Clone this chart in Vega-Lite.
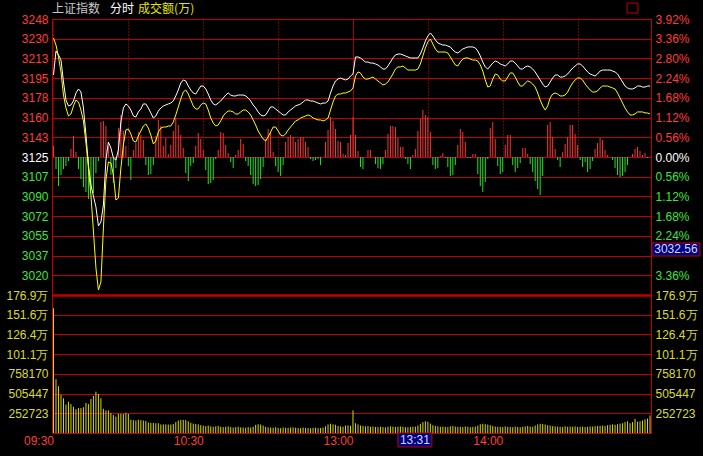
{
"$schema": "https://vega.github.io/schema/vega-lite/v6.json",
"width": 599, "height": 414,
"autosize": "none",
"padding": {"left": 52, "top": 19, "right": 52, "bottom": 23},
"background": "#000000",
"config": {
  "view": {"stroke": "#c00000", "strokeWidth": 1},
  "axis": {"domain": false, "ticks": false, "title": null, "labelFont": "Liberation Sans", "labelFontSize": 12, "labelOverlap": false, "labelFlush": false, "gridColor": "#c00000", "gridOpacity": 1}
},
"datasets": {
"px": [
{"m":0,"w":3198.2,"a":3231.0},{"m":1,"w":3219.5,"a":3224.8},{"m":2,"w":3216.0,"a":3214.2},{"m":3,"w":3211.5,"a":3200.9},{"m":4,"w":3192.0,"a":3180.4},{"m":5,"w":3176.0,"a":3168.9},{"m":6,"w":3170.7,"a":3161.8},{"m":7,"w":3171.6,"a":3163.6},{"m":8,"w":3175.1,"a":3170.7},{"m":9,"w":3182.2,"a":3176.0},
{"m":10,"w":3185.8,"a":3174.2},{"m":11,"w":3183.1,"a":3167.1},{"m":12,"w":3168.9,"a":3157.4},{"m":13,"w":3144.9,"a":3137.8},{"m":14,"w":3118.3,"a":3115.6},{"m":15,"w":3100.5,"a":3091.7},{"m":16,"w":3090.8,"a":3059.7},{"m":17,"w":3081.0,"a":3026.9},{"m":18,"w":3064.2,"a":3007.3},{"m":19,"w":3067.7,"a":3014.4},
{"m":20,"w":3082.8,"a":3062.4},{"m":21,"w":3122.7,"a":3105.0},{"m":22,"w":3138.7,"a":3121.0},{"m":23,"w":3133.4,"a":3120.1},{"m":24,"w":3124.5,"a":3109.4},{"m":25,"w":3122.7,"a":3087.2},{"m":26,"w":3131.6,"a":3089.0},{"m":27,"w":3156.5,"a":3115.6},{"m":28,"w":3168.9,"a":3136.1},{"m":29,"w":3172.5,"a":3149.4},
{"m":30,"w":3170.7,"a":3150.3},{"m":31,"w":3167.1,"a":3145.8},{"m":32,"w":3161.8,"a":3139.6},{"m":33,"w":3160.9,"a":3138.7},{"m":34,"w":3165.4,"a":3144.0},{"m":35,"w":3168.0,"a":3148.5},{"m":36,"w":3172.5,"a":3152.9},{"m":37,"w":3172.5,"a":3154.7},{"m":38,"w":3168.9,"a":3151.1},{"m":39,"w":3164.5,"a":3144.9},
{"m":40,"w":3160.0,"a":3136.9},{"m":41,"w":3161.8,"a":3139.6},{"m":42,"w":3166.2,"a":3147.6},{"m":43,"w":3168.9,"a":3151.1},{"m":44,"w":3170.7,"a":3152.0},{"m":45,"w":3171.6,"a":3152.0},{"m":46,"w":3172.5,"a":3152.9},{"m":47,"w":3173.3,"a":3152.9},{"m":48,"w":3175.1,"a":3156.5},{"m":49,"w":3179.6,"a":3162.7},
{"m":50,"w":3184.9,"a":3169.8},{"m":51,"w":3191.1,"a":3176.9},{"m":52,"w":3193.8,"a":3183.1},{"m":53,"w":3192.9,"a":3184.9},{"m":54,"w":3188.4,"a":3181.3},{"m":55,"w":3184.9,"a":3176.0},{"m":56,"w":3182.2,"a":3170.7},{"m":57,"w":3181.3,"a":3168.0},{"m":58,"w":3184.9,"a":3168.0},{"m":59,"w":3188.4,"a":3171.6},
{"m":60,"w":3188.4,"a":3173.3},{"m":61,"w":3185.8,"a":3172.5},{"m":62,"w":3181.3,"a":3167.1},{"m":63,"w":3176.0,"a":3160.0},{"m":64,"w":3172.5,"a":3155.6},{"m":65,"w":3171.6,"a":3152.9},{"m":66,"w":3173.3,"a":3153.8},{"m":67,"w":3175.1,"a":3157.4},{"m":68,"w":3177.8,"a":3161.8},{"m":69,"w":3180.4,"a":3164.5},
{"m":70,"w":3182.2,"a":3166.2},{"m":71,"w":3180.4,"a":3166.2},{"m":72,"w":3179.6,"a":3165.4},{"m":73,"w":3179.6,"a":3163.6},{"m":74,"w":3180.4,"a":3163.6},{"m":75,"w":3180.4,"a":3165.4},{"m":76,"w":3180.4,"a":3167.1},{"m":77,"w":3179.6,"a":3167.1},{"m":78,"w":3177.8,"a":3165.4},{"m":79,"w":3175.1,"a":3162.7},
{"m":80,"w":3171.6,"a":3158.3},{"m":81,"w":3168.9,"a":3153.8},{"m":82,"w":3165.4,"a":3148.5},{"m":83,"w":3162.7,"a":3144.9},{"m":84,"w":3161.8,"a":3141.4},{"m":85,"w":3162.7,"a":3139.6},{"m":86,"w":3166.2,"a":3143.2},{"m":87,"w":3169.8,"a":3147.6},{"m":88,"w":3169.8,"a":3152.0},{"m":89,"w":3168.0,"a":3152.0},
{"m":90,"w":3166.2,"a":3148.5},{"m":91,"w":3164.5,"a":3144.9},{"m":92,"w":3162.7,"a":3144.0},{"m":93,"w":3162.7,"a":3145.8},{"m":94,"w":3165.4,"a":3149.4},{"m":95,"w":3167.1,"a":3152.0},{"m":96,"w":3168.9,"a":3154.7},{"m":97,"w":3170.7,"a":3157.4},{"m":98,"w":3171.6,"a":3158.3},{"m":99,"w":3172.5,"a":3160.0},
{"m":100,"w":3174.2,"a":3160.9},{"m":101,"w":3176.0,"a":3161.8},{"m":102,"w":3176.0,"a":3162.7},{"m":103,"w":3175.1,"a":3161.8},{"m":104,"w":3175.1,"a":3160.0},{"m":105,"w":3174.2,"a":3159.1},{"m":106,"w":3173.3,"a":3158.3},{"m":107,"w":3172.5,"a":3158.3},{"m":108,"w":3173.3,"a":3157.4},{"m":109,"w":3173.3,"a":3158.3},
{"m":110,"w":3175.1,"a":3160.0},{"m":111,"w":3182.2,"a":3167.1},{"m":112,"w":3188.4,"a":3174.2},{"m":113,"w":3192.9,"a":3179.6},{"m":114,"w":3194.6,"a":3181.3},{"m":115,"w":3195.5,"a":3181.3},{"m":116,"w":3194.6,"a":3182.2},{"m":117,"w":3193.8,"a":3182.2},{"m":118,"w":3194.6,"a":3183.1},{"m":119,"w":3197.3,"a":3184.0},
{"m":120,"w":3199.1,"a":3186.7},{"m":121,"w":3214.2,"a":3197.3},{"m":122,"w":3214.2,"a":3200.9},{"m":123,"w":3213.3,"a":3200.0},{"m":124,"w":3211.5,"a":3196.4},{"m":125,"w":3209.7,"a":3194.6},{"m":126,"w":3209.7,"a":3194.6},{"m":127,"w":3208.8,"a":3195.5},{"m":128,"w":3208.8,"a":3196.4},{"m":129,"w":3208.0,"a":3194.6},
{"m":130,"w":3207.1,"a":3192.9},{"m":131,"w":3205.3,"a":3191.1},{"m":132,"w":3203.5,"a":3189.3},{"m":133,"w":3203.5,"a":3190.2},{"m":134,"w":3206.2,"a":3192.0},{"m":135,"w":3209.7,"a":3195.5},{"m":136,"w":3213.3,"a":3199.1},{"m":137,"w":3216.0,"a":3203.5},{"m":138,"w":3216.8,"a":3205.3},{"m":139,"w":3216.8,"a":3205.3},
{"m":140,"w":3216.0,"a":3206.2},{"m":141,"w":3215.1,"a":3204.4},{"m":142,"w":3214.2,"a":3202.6},{"m":143,"w":3213.3,"a":3202.6},{"m":144,"w":3213.3,"a":3202.6},{"m":145,"w":3213.3,"a":3202.6},{"m":146,"w":3213.3,"a":3203.5},{"m":147,"w":3216.8,"a":3208.0},{"m":148,"w":3222.2,"a":3215.1},{"m":149,"w":3228.4,"a":3222.2},
{"m":150,"w":3232.8,"a":3227.5},{"m":151,"w":3235.5,"a":3230.2},{"m":152,"w":3232.8,"a":3225.7},{"m":153,"w":3229.3,"a":3221.3},{"m":154,"w":3226.6,"a":3218.6},{"m":155,"w":3225.7,"a":3218.6},{"m":156,"w":3224.8,"a":3218.6},{"m":157,"w":3224.8,"a":3218.6},{"m":158,"w":3223.9,"a":3217.7},{"m":159,"w":3223.1,"a":3214.2},
{"m":160,"w":3220.4,"a":3210.6},{"m":161,"w":3218.6,"a":3207.1},{"m":162,"w":3217.7,"a":3206.2},{"m":163,"w":3219.5,"a":3209.7},{"m":164,"w":3221.3,"a":3212.4},{"m":165,"w":3222.2,"a":3213.3},{"m":166,"w":3223.1,"a":3213.3},{"m":167,"w":3223.1,"a":3212.4},{"m":168,"w":3223.1,"a":3211.5},{"m":169,"w":3222.2,"a":3211.5},
{"m":170,"w":3219.5,"a":3210.6},{"m":171,"w":3215.1,"a":3207.1},{"m":172,"w":3209.7,"a":3201.7},{"m":173,"w":3205.3,"a":3193.8},{"m":174,"w":3203.5,"a":3187.5},{"m":175,"w":3206.2,"a":3188.4},{"m":176,"w":3208.8,"a":3194.6},{"m":177,"w":3210.6,"a":3199.1},{"m":178,"w":3209.7,"a":3198.2},{"m":179,"w":3208.0,"a":3194.6},
{"m":180,"w":3207.1,"a":3192.9},{"m":181,"w":3206.2,"a":3192.9},{"m":182,"w":3208.0,"a":3196.4},{"m":183,"w":3210.6,"a":3200.0},{"m":184,"w":3210.6,"a":3200.0},{"m":185,"w":3208.8,"a":3196.4},{"m":186,"w":3206.2,"a":3192.0},{"m":187,"w":3203.5,"a":3188.4},{"m":188,"w":3203.5,"a":3188.4},{"m":189,"w":3205.3,"a":3191.1},
{"m":190,"w":3206.2,"a":3192.9},{"m":191,"w":3205.3,"a":3192.0},{"m":192,"w":3203.5,"a":3190.2},{"m":193,"w":3200.9,"a":3187.5},{"m":194,"w":3197.3,"a":3182.2},{"m":195,"w":3193.8,"a":3176.0},{"m":196,"w":3190.2,"a":3170.7},{"m":197,"w":3187.5,"a":3167.1},{"m":198,"w":3188.4,"a":3170.7},{"m":199,"w":3192.0,"a":3177.8},
{"m":200,"w":3195.5,"a":3181.3},{"m":201,"w":3198.2,"a":3182.2},{"m":202,"w":3198.2,"a":3181.3},{"m":203,"w":3196.4,"a":3179.6},{"m":204,"w":3196.4,"a":3179.6},{"m":205,"w":3197.3,"a":3180.4},{"m":206,"w":3199.1,"a":3183.1},{"m":207,"w":3201.7,"a":3187.5},{"m":208,"w":3204.4,"a":3191.1},{"m":209,"w":3206.2,"a":3193.8},
{"m":210,"w":3208.0,"a":3195.5},{"m":211,"w":3208.0,"a":3195.5},{"m":212,"w":3206.2,"a":3193.8},{"m":213,"w":3203.5,"a":3190.2},{"m":214,"w":3200.9,"a":3187.5},{"m":215,"w":3199.1,"a":3184.9},{"m":216,"w":3198.2,"a":3183.1},{"m":217,"w":3197.3,"a":3183.1},{"m":218,"w":3199.1,"a":3184.0},{"m":219,"w":3201.7,"a":3186.7},
{"m":220,"w":3202.6,"a":3188.4},{"m":221,"w":3202.6,"a":3188.4},{"m":222,"w":3202.6,"a":3188.4},{"m":223,"w":3202.6,"a":3187.5},{"m":224,"w":3201.7,"a":3186.7},{"m":225,"w":3200.9,"a":3185.8},{"m":226,"w":3199.1,"a":3182.2},{"m":227,"w":3195.5,"a":3177.8},{"m":228,"w":3192.0,"a":3173.3},{"m":229,"w":3188.4,"a":3168.9},
{"m":230,"w":3186.7,"a":3165.4},{"m":231,"w":3185.8,"a":3162.7},{"m":232,"w":3185.8,"a":3162.7},{"m":233,"w":3186.7,"a":3163.6},{"m":234,"w":3188.4,"a":3165.4},{"m":235,"w":3188.4,"a":3165.4},{"m":236,"w":3187.5,"a":3165.4},{"m":237,"w":3187.5,"a":3164.5},{"m":238,"w":3188.4,"a":3164.5},{"m":239,"w":3188.4,"a":3163.6}
],
"bar": [
{"m":0,"f":11},{"m":1,"f":-12},{"m":2,"f":-29},{"m":3,"f":-18},{"m":4,"f":-12},{"m":5,"f":-9},{"m":6,"f":-4},{"m":7,"f":8},{"m":8,"f":21},{"m":9,"f":5},
{"m":10,"f":-12},{"m":11,"f":-22},{"m":12,"f":-30},{"m":13,"f":-35},{"m":14,"f":-42},{"m":15,"f":-33},{"m":16,"f":-36},{"m":17,"f":-16},{"m":18,"f":-4},{"m":19,"f":35},
{"m":20,"f":36},{"m":21,"f":31},{"m":22,"f":11},{"m":23,"f":-18},{"m":24,"f":-26},{"m":25,"f":-11},{"m":26,"f":29},{"m":27,"f":42},{"m":28,"f":26},{"m":29,"f":11},
{"m":30,"f":-9},{"m":31,"f":-23},{"m":32,"f":7},{"m":33,"f":14},{"m":34,"f":25},{"m":35,"f":22},{"m":36,"f":17},{"m":37,"f":-8},{"m":38,"f":-18},{"m":39,"f":-17},
{"m":40,"f":-8},{"m":41,"f":21},{"m":42,"f":37},{"m":43,"f":31},{"m":44,"f":11},{"m":45,"f":19},{"m":46,"f":3},{"m":47,"f":12},{"m":48,"f":26},{"m":49,"f":39},
{"m":50,"f":32},{"m":51,"f":22},{"m":52,"f":9},{"m":53,"f":-16},{"m":54,"f":-24},{"m":55,"f":-9},{"m":56,"f":-6},{"m":57,"f":11},{"m":58,"f":24},{"m":59,"f":18},
{"m":60,"f":7},{"m":61,"f":-13},{"m":62,"f":-27},{"m":63,"f":-26},{"m":64,"f":-23},{"m":65,"f":-2},{"m":66,"f":7},{"m":67,"f":25},{"m":68,"f":24},{"m":69,"f":12},
{"m":70,"f":4},{"m":71,"f":-5},{"m":72,"f":-11},{"m":73,"f":2},{"m":74,"f":7},{"m":75,"f":18},{"m":76,"f":13},{"m":77,"f":-4},{"m":78,"f":-9},{"m":79,"f":-18},
{"m":80,"f":-27},{"m":81,"f":-29},{"m":82,"f":-28},{"m":83,"f":-22},{"m":84,"f":-10},{"m":85,"f":18},{"m":86,"f":28},{"m":87,"f":25},{"m":88,"f":5},{"m":89,"f":-9},
{"m":90,"f":-15},{"m":91,"f":-19},{"m":92,"f":-8},{"m":93,"f":15},{"m":94,"f":20},{"m":95,"f":22},{"m":96,"f":20},{"m":97,"f":15},{"m":98,"f":18},{"m":99,"f":20},
{"m":100,"f":20},{"m":101,"f":15},{"m":102,"f":10},{"m":103,"f":-2},{"m":104,"f":-4},{"m":105,"f":-3},{"m":106,"f":-2},{"m":107,"f":-8},{"m":109,"f":15},
{"m":110,"f":27},{"m":111,"f":40},{"m":112,"f":36},{"m":113,"f":28},{"m":114,"f":16},{"m":115,"f":15},{"m":116,"f":3},{"m":117,"f":2},{"m":118,"f":14},{"m":119,"f":22},
{"m":120,"f":40},{"m":121,"f":22},{"m":122,"f":6},{"m":123,"f":-10},{"m":124,"f":-12},{"m":126,"f":7},{"m":127,"f":7},{"m":129,"f":-7},
{"m":130,"f":-11},{"m":131,"f":-12},{"m":132,"f":-7},{"m":133,"f":7},{"m":134,"f":23},{"m":135,"f":31},{"m":136,"f":31},{"m":137,"f":30},{"m":138,"f":19},{"m":139,"f":10},
{"m":140,"f":10},{"m":141,"f":-2},{"m":142,"f":-7},{"m":143,"f":-12},{"m":144,"f":2},{"m":145,"f":8},{"m":146,"f":26},{"m":147,"f":38},{"m":148,"f":47},{"m":149,"f":42},
{"m":150,"f":40},{"m":151,"f":25},{"m":152,"f":-8},{"m":153,"f":-12},{"m":154,"f":-11},{"m":155,"f":1},{"m":156,"f":4},{"m":157,"f":-1},{"m":158,"f":-10},{"m":159,"f":-19},
{"m":160,"f":-18},{"m":161,"f":-8},{"m":162,"f":12},{"m":163,"f":28},{"m":164,"f":25},{"m":165,"f":15},{"m":166,"f":-1},{"m":167,"f":-1},{"m":168,"f":3},{"m":169,"f":3},
{"m":170,"f":-17},{"m":171,"f":-29},{"m":172,"f":-35},{"m":173,"f":-25},{"m":174,"f":-2},{"m":175,"f":29},{"m":176,"f":35},{"m":177,"f":18},{"m":178,"f":-9},{"m":179,"f":-17},
{"m":180,"f":-15},{"m":181,"f":12},{"m":182,"f":22},{"m":183,"f":22},{"m":184,"f":-8},{"m":185,"f":-15},{"m":186,"f":-11},{"m":187,"f":-6},{"m":188,"f":9},{"m":189,"f":9},
{"m":190,"f":3},{"m":191,"f":-7},{"m":192,"f":-15},{"m":193,"f":-24},{"m":194,"f":-32},{"m":195,"f":-38},{"m":196,"f":-19},{"m":198,"f":32},{"m":199,"f":35},
{"m":200,"f":20},{"m":201,"f":8},{"m":202,"f":-3},{"m":203,"f":-10},{"m":204,"f":5},{"m":205,"f":13},{"m":206,"f":20},{"m":207,"f":32},{"m":208,"f":32},{"m":209,"f":23},
{"m":210,"f":12},{"m":211,"f":-3},{"m":212,"f":-10},{"m":213,"f":-5},{"m":214,"f":-15},{"m":215,"f":-12},{"m":216,"f":-4},{"m":217,"f":8},{"m":218,"f":14},{"m":219,"f":19},
{"m":220,"f":17},{"m":221,"f":7},{"m":222,"f":2},{"m":224,"f":-3},{"m":225,"f":-11},{"m":226,"f":-18},{"m":227,"f":-20},{"m":228,"f":-19},{"m":229,"f":-15},
{"m":230,"f":-8},{"m":232,"f":3},{"m":233,"f":8},{"m":234,"f":10},{"m":235,"f":6},{"m":236,"f":2},{"m":237,"f":4},{"m":238,"f":-1}
],
"vol": [
{"m":0,"v":1600000},{"m":1,"v":690000},{"m":2,"v":600000},{"m":3,"v":490000},{"m":4,"v":445000},{"m":5,"v":365000},{"m":6,"v":400000},{"m":7,"v":370000},{"m":8,"v":335000},{"m":9,"v":305000},
{"m":10,"v":320000},{"m":11,"v":320000},{"m":12,"v":330000},{"m":13,"v":385000},{"m":14,"v":370000},{"m":15,"v":435000},{"m":16,"v":475000},{"m":17,"v":530000},{"m":18,"v":500000},{"m":19,"v":445000},
{"m":20,"v":310000},{"m":21,"v":290000},{"m":22,"v":290000},{"m":23,"v":258000},{"m":24,"v":230000},{"m":25,"v":210000},{"m":26,"v":245000},{"m":27,"v":245000},{"m":28,"v":245000},{"m":29,"v":260000},
{"m":30,"v":245000},{"m":31,"v":170000},{"m":32,"v":165000},{"m":33,"v":160000},{"m":34,"v":170000},{"m":35,"v":165000},{"m":36,"v":160000},{"m":37,"v":155000},{"m":38,"v":135000},{"m":39,"v":130000},
{"m":40,"v":130000},{"m":41,"v":125000},{"m":42,"v":125000},{"m":43,"v":110000},{"m":44,"v":110000},{"m":45,"v":110000},{"m":46,"v":108000},{"m":47,"v":108000},{"m":48,"v":115000},{"m":49,"v":140000},
{"m":50,"v":160000},{"m":51,"v":168000},{"m":52,"v":168000},{"m":53,"v":165000},{"m":54,"v":150000},{"m":55,"v":130000},{"m":56,"v":120000},{"m":57,"v":115000},{"m":58,"v":110000},{"m":59,"v":100000},
{"m":60,"v":95000},{"m":61,"v":88000},{"m":62,"v":95000},{"m":63,"v":85000},{"m":64,"v":80000},{"m":65,"v":85000},{"m":66,"v":90000},{"m":67,"v":80000},{"m":68,"v":75000},{"m":69,"v":80000},
{"m":70,"v":85000},{"m":71,"v":75000},{"m":72,"v":70000},{"m":73,"v":75000},{"m":74,"v":80000},{"m":75,"v":72000},{"m":76,"v":70000},{"m":77,"v":68000},{"m":78,"v":75000},{"m":79,"v":70000},
{"m":80,"v":80000},{"m":81,"v":105000},{"m":82,"v":112000},{"m":83,"v":108000},{"m":84,"v":95000},{"m":85,"v":80000},{"m":86,"v":72000},{"m":87,"v":70000},{"m":88,"v":68000},{"m":89,"v":75000},
{"m":90,"v":65000},{"m":91,"v":62000},{"m":92,"v":70000},{"m":93,"v":68000},{"m":94,"v":65000},{"m":95,"v":70000},{"m":96,"v":72000},{"m":97,"v":68000},{"m":98,"v":64000},{"m":99,"v":62000},
{"m":100,"v":70000},{"m":101,"v":66000},{"m":102,"v":64000},{"m":103,"v":60000},{"m":104,"v":65000},{"m":105,"v":68000},{"m":106,"v":62000},{"m":107,"v":64000},{"m":108,"v":70000},{"m":109,"v":85000},
{"m":110,"v":110000},{"m":111,"v":118000},{"m":112,"v":110000},{"m":113,"v":105000},{"m":114,"v":90000},{"m":115,"v":85000},{"m":116,"v":80000},{"m":117,"v":95000},{"m":118,"v":98000},{"m":119,"v":92000},
{"m":120,"v":290000},{"m":121,"v":125000},{"m":122,"v":110000},{"m":123,"v":95000},{"m":124,"v":90000},{"m":125,"v":85000},{"m":126,"v":88000},{"m":127,"v":80000},{"m":128,"v":82000},{"m":129,"v":78000},
{"m":130,"v":75000},{"m":131,"v":80000},{"m":132,"v":76000},{"m":133,"v":72000},{"m":134,"v":80000},{"m":135,"v":85000},{"m":136,"v":82000},{"m":137,"v":78000},{"m":138,"v":80000},{"m":139,"v":84000},
{"m":140,"v":80000},{"m":141,"v":75000},{"m":142,"v":72000},{"m":143,"v":78000},{"m":144,"v":80000},{"m":145,"v":82000},{"m":146,"v":95000},{"m":147,"v":118000},{"m":148,"v":140000},{"m":149,"v":150000},
{"m":150,"v":145000},{"m":151,"v":120000},{"m":152,"v":100000},{"m":153,"v":90000},{"m":154,"v":85000},{"m":155,"v":80000},{"m":156,"v":82000},{"m":157,"v":78000},{"m":158,"v":75000},{"m":159,"v":85000},
{"m":160,"v":90000},{"m":161,"v":82000},{"m":162,"v":78000},{"m":163,"v":80000},{"m":164,"v":76000},{"m":165,"v":84000},{"m":166,"v":80000},{"m":167,"v":75000},{"m":168,"v":78000},{"m":169,"v":82000},
{"m":170,"v":95000},{"m":171,"v":112000},{"m":172,"v":118000},{"m":173,"v":112000},{"m":174,"v":108000},{"m":175,"v":100000},{"m":176,"v":90000},{"m":177,"v":82000},{"m":178,"v":78000},{"m":179,"v":80000},
{"m":180,"v":76000},{"m":181,"v":85000},{"m":182,"v":80000},{"m":183,"v":78000},{"m":184,"v":75000},{"m":185,"v":82000},{"m":186,"v":78000},{"m":187,"v":74000},{"m":188,"v":80000},{"m":189,"v":85000},
{"m":190,"v":90000},{"m":191,"v":82000},{"m":192,"v":80000},{"m":193,"v":95000},{"m":194,"v":110000},{"m":195,"v":118000},{"m":196,"v":115000},{"m":197,"v":108000},{"m":198,"v":100000},{"m":199,"v":95000},
{"m":200,"v":88000},{"m":201,"v":85000},{"m":202,"v":82000},{"m":203,"v":80000},{"m":204,"v":78000},{"m":205,"v":85000},{"m":206,"v":80000},{"m":207,"v":82000},{"m":208,"v":80000},{"m":209,"v":84000},
{"m":210,"v":78000},{"m":211,"v":80000},{"m":212,"v":82000},{"m":213,"v":78000},{"m":214,"v":80000},{"m":215,"v":84000},{"m":216,"v":82000},{"m":217,"v":88000},{"m":218,"v":90000},{"m":219,"v":92000},
{"m":220,"v":95000},{"m":221,"v":90000},{"m":222,"v":100000},{"m":223,"v":105000},{"m":224,"v":110000},{"m":225,"v":105000},{"m":226,"v":112000},{"m":227,"v":120000},{"m":228,"v":125000},{"m":229,"v":140000},
{"m":230,"v":150000},{"m":231,"v":125000},{"m":232,"v":140000},{"m":233,"v":182000},{"m":234,"v":145000},{"m":235,"v":150000},{"m":236,"v":160000},{"m":237,"v":175000},{"m":238,"v":185000},{"m":239,"v":225000}
]
},
"resolve": {"scale": {"y": "independent"}},
"layer": [
{
 "data": {"name": "vol"},
 "mark": {"type": "rule", "color": "#d8d800", "strokeWidth": 1},
 "encoding": {
  "x": {"field": "m", "type": "quantitative", "scale": {"domain": [-0.6, 239.4], "nice": false, "zero": false},
        "axis": {"values": [0, 30, 60, 90, 120, 150, 180, 210], "labelExpr": "datum.value == 0 ? '09:30' : datum.value == 60 ? '10:30' : datum.value == 120 ? '13:00' : datum.value == 180 ? '14:00' : ''",
                 "labelColor": "#ff3c3c", "labelAlign": "right", "labelPadding": 2, "grid": true, "gridColor": "#e00000",
                 "gridDash": {"condition": {"test": "datum.value == 120", "value": [1, 0]}, "value": [1, 2]}}},
  "y": {"field": "v", "type": "quantitative", "scale": {"domain": [0, 1769063.1], "range": [414, 276], "nice": false, "zero": false},
        "axis": {"orient": "left", "values": [252723.3, 505446.6, 758169.9, 1010893.2, 1263616.5, 1516339.8, 1769063.1],
                 "labelExpr": "['', '252723', '505447', '758170', '101.1万', '126.4万', '151.6万', '176.9万'][round(datum.value / 252723.3)]",
                 "labelColor": "#dcdc28", "labelPadding": 4, "grid": true,
                 "gridWidth": {"condition": {"test": "datum.value > 1700000", "value": 2.5}, "value": 1}}},
  "y2": {"datum": 0}
 }
},
{
 "data": {"name": "vol"},
 "mark": {"type": "rule", "opacity": 0},
 "encoding": {
  "x": {"field": "m", "type": "quantitative"},
  "y": {"field": "v", "type": "quantitative", "scale": {"domain": [0, 1769063.1], "range": [414, 276], "nice": false, "zero": false},
        "axis": {"orient": "right", "values": [252723.3, 505446.6, 758169.9, 1010893.2, 1263616.5, 1516339.8, 1769063.1],
                 "labelExpr": "['', '252723', '505447', '758170', '101.1万', '126.4万', '151.6万', '176.9万'][round(datum.value / 252723.3)]",
                 "labelColor": "#dcdc28", "labelPadding": 4, "grid": false}}
 }
},
{
 "data": {"name": "bar"},
 "mark": {"type": "rule", "strokeWidth": 1},
 "encoding": {
  "x": {"field": "m", "type": "quantitative"},
  "y": {"field": "f", "type": "quantitative", "scale": {"domain": [-138, 138], "range": [276, 0], "nice": false, "zero": false}, "axis": null},
  "y2": {"datum": 0},
  "color": {"condition": {"test": "datum.f > 0", "value": "#ff3232"}, "value": "#1ee61e"}
 }
},
{
 "data": {"name": "px"},
 "mark": {"type": "line", "color": "#ffffff", "strokeWidth": 1},
 "encoding": {
  "x": {"field": "m", "type": "quantitative"},
  "y": {"field": "w", "type": "quantitative", "scale": {"domain": [3002.9, 3247.9], "range": [276, 0], "nice": false, "zero": false},
        "axis": {"orient": "left", "values": [3020.4, 3037.9, 3055.4, 3072.9, 3090.4, 3107.9, 3125.4, 3142.9, 3160.4, 3177.9, 3195.4, 3212.9, 3230.4, 3247.9],
                 "labelExpr": "['', '3020', '3037', '3055', '3072', '3090', '3107', '3125', '3143', '3160', '3178', '3195', '3213', '3230', '3248'][round((datum.value - 3002.9) / 17.5)]",
                 "labelColor": {"condition": [{"test": "datum.value > 3126", "value": "#ff3c3c"}, {"test": "datum.value > 3124", "value": "#ffffff"}], "value": "#3ce63c"},
                 "labelPadding": 4, "grid": true}}
 }
},
{
 "data": {"name": "px"},
 "mark": {"type": "line", "color": "#ffff00", "strokeWidth": 1},
 "encoding": {
  "x": {"field": "m", "type": "quantitative"},
  "y": {"field": "a", "type": "quantitative", "scale": {"domain": [3002.9, 3247.9], "range": [276, 0], "nice": false, "zero": false}, "axis": null}
 }
},
{
 "data": {"name": "px"},
 "mark": {"type": "line", "opacity": 0},
 "encoding": {
  "x": {"field": "m", "type": "quantitative"},
  "y": {"field": "w", "type": "quantitative", "scale": {"domain": [3002.9, 3247.9], "range": [276, 0], "nice": false, "zero": false},
        "axis": {"orient": "right", "values": [3020.4, 3037.9, 3055.4, 3072.9, 3090.4, 3107.9, 3125.4, 3142.9, 3160.4, 3177.9, 3195.4, 3212.9, 3230.4, 3247.9],
                 "labelExpr": "['', '3.36%', '', '2.24%', '1.68%', '1.12%', '0.56%', '0.00%', '0.56%', '1.12%', '1.68%', '2.24%', '2.80%', '3.36%', '3.92%'][round((datum.value - 3002.9) / 17.5)]",
                 "labelColor": {"condition": [{"test": "datum.value > 3126", "value": "#ff3c3c"}, {"test": "datum.value > 3124", "value": "#ffffff"}], "value": "#3ce63c"},
                 "labelPadding": 4, "grid": false}}
 }
},
{
 "data": {"values": [{}]},
 "layer": [
  {"mark": {"type": "text", "align": "left", "baseline": "middle", "font": "Noto Sans CJK SC", "fontSize": 12, "color": "#c8c8c8", "text": "上证指数"},
   "encoding": {"x": {"datum": -0.6, "type": "quantitative"}, "y": {"datum": 3256.8, "type": "quantitative", "scale": {"domain": [3002.9, 3247.9], "range": [276, 0], "nice": false, "zero": false}, "axis": null}}},
  {"mark": {"type": "text", "align": "left", "baseline": "middle", "font": "Noto Sans CJK SC", "fontSize": 12, "color": "#ffffff", "text": "分时"},
   "encoding": {"x": {"datum": 22.6, "type": "quantitative"}, "y": {"datum": 3256.8, "type": "quantitative"}}},
  {"mark": {"type": "text", "align": "left", "baseline": "middle", "font": "Noto Sans CJK SC", "fontSize": 12, "color": "#e6e600", "text": "成交额(万)"},
   "encoding": {"x": {"datum": 33.9, "type": "quantitative"}, "y": {"datum": 3256.8, "type": "quantitative"}}},
  {"mark": {"type": "rect", "fill": "#000080", "stroke": "#c00000", "strokeWidth": 1},
   "encoding": {"x": {"datum": 239.8, "type": "quantitative"}, "x2": {"datum": 259.0}, "y": {"datum": 3049.1, "type": "quantitative"}, "y2": {"datum": 3037.5}}},
  {"mark": {"type": "text", "align": "center", "baseline": "middle", "font": "Liberation Sans", "fontSize": 12, "color": "#d0d8ff", "text": "3032.56"},
   "encoding": {"x": {"datum": 249.4, "type": "quantitative"}, "y": {"datum": 3043.3, "type": "quantitative"}}},
  {"mark": {"type": "rect", "fill": "#000080", "stroke": "#c00000", "strokeWidth": 1},
   "encoding": {"x": {"datum": 138.0, "type": "quantitative"}, "x2": {"datum": 151.6}, "y": {"datum": 2880.4, "type": "quantitative"}, "y2": {"datum": 2868.0}}},
  {"mark": {"type": "text", "align": "center", "baseline": "middle", "font": "Liberation Sans", "fontSize": 12, "color": "#d0d8ff", "text": "13:31"},
   "encoding": {"x": {"datum": 144.8, "type": "quantitative"}, "y": {"datum": 2874.2, "type": "quantitative"}}},
  {"mark": {"type": "rect", "fill": null, "fillOpacity": 0, "stroke": "#c00000", "strokeWidth": 1},
   "encoding": {"x": {"datum": 229.8, "type": "quantitative"}, "x2": {"datum": 234.2}, "y": {"datum": 3262.1, "type": "quantitative"}, "y2": {"datum": 3253.2}}}
 ]
}
]
}
